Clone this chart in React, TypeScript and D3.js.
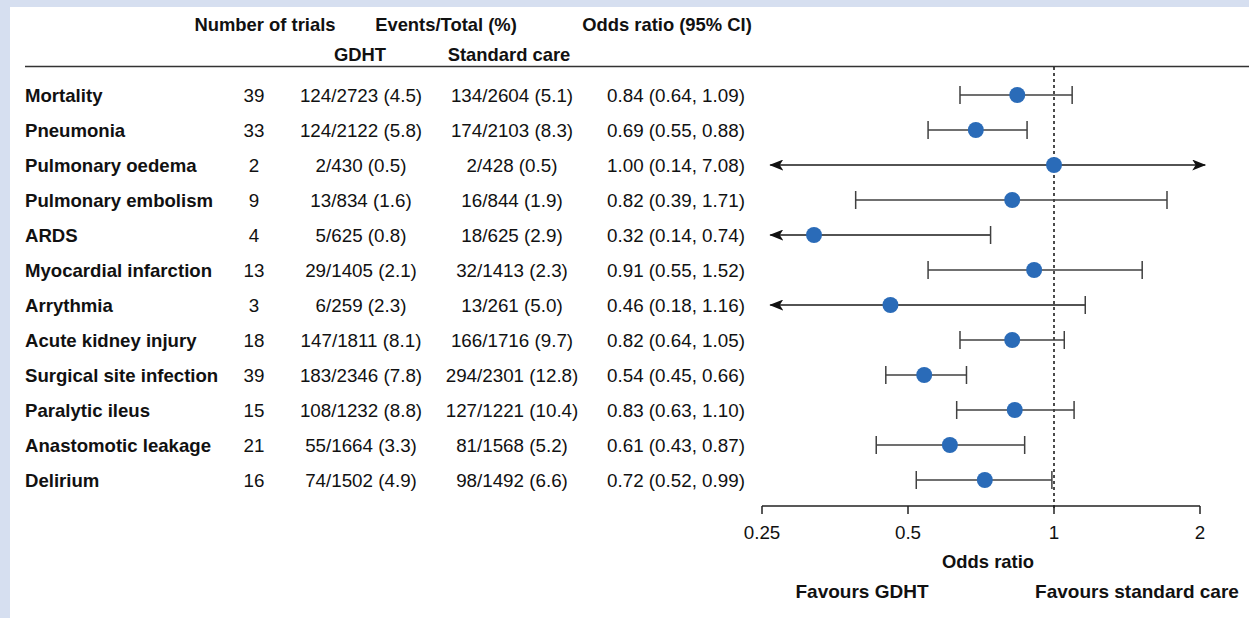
import React from "react";
import * as d3 from "d3";

const outcomes = [
  "Mortality",
  "Pneumonia",
  "Pulmonary oedema",
  "Pulmonary embolism",
  "ARDS",
  "Myocardial infarction",
  "Arrythmia",
  "Acute kidney injury",
  "Surgical site infection",
  "Paralytic ileus",
  "Anastomotic leakage",
  "Delirium",
];
const trials = [39, 33, 2, 9, 4, 13, 3, 18, 39, 15, 21, 16];
const gdhtEvents = [124, 124, 2, 13, 5, 29, 6, 147, 183, 108, 55, 74];
const gdhtTotal = [2723, 2122, 430, 834, 625, 1405, 259, 1811, 2346, 1232, 1664, 1502];
const gdhtPct = ["4.5", "5.8", "0.5", "1.6", "0.8", "2.1", "2.3", "8.1", "7.8", "8.8", "3.3", "4.9"];
const scEvents = [134, 174, 2, 16, 18, 32, 13, 166, 294, 127, 81, 98];
const scTotal = [2604, 2103, 428, 844, 625, 1413, 261, 1716, 2301, 1221, 1568, 1492];
const scPct = ["5.1", "8.3", "0.5", "1.9", "2.9", "2.3", "5.0", "9.7", "12.8", "10.4", "5.2", "6.6"];
const oddsRatio = [0.84, 0.69, 1.0, 0.82, 0.32, 0.91, 0.46, 0.82, 0.54, 0.83, 0.61, 0.72];
const ciLower = [0.64, 0.55, 0.14, 0.39, 0.14, 0.55, 0.18, 0.64, 0.45, 0.63, 0.43, 0.52];
const ciUpper = [1.09, 0.88, 7.08, 1.71, 0.74, 1.52, 1.16, 1.05, 0.66, 1.1, 0.87, 0.99];
const axisTicks = [0.25, 0.5, 1, 2];
const clipLow = 0.26;
const clipHigh = 2.05;

const W = 1249;
const H = 618;
const FONT = "'Liberation Sans', Arial, Helvetica, sans-serif";
const BG = "#d6dff0";
const DOT = "#2a6bb8";
const BAR = "#404040";

export default function App() {
  const x = d3.scaleLog().base(2).domain([0.25, 2]).range([762, 1200]);
  const y = d3
    .scalePoint<number>()
    .domain(d3.range(outcomes.length))
    .range([95, 480]);
  const fmt = d3.format(".2f");
  const tickFmt = (v: number) => String(v);

  const bodySize = 18.8;
  const labelSize = 18.6;
  const headSize = 18.4;
  const cap = 9;

  return (
    <svg
      width={W}
      height={H}
      style={{ position: "absolute", left: 0, top: 0, fontFamily: FONT }}
    >
      <defs>
        <marker
          id="arr"
          viewBox="0 0 14 11"
          refX="13"
          refY="5.5"
          markerWidth="14"
          markerHeight="11"
          markerUnits="userSpaceOnUse"
          orient="auto-start-reverse"
        >
          <path d="M0,0 L14,5.5 L0,11 L3.5,5.5 Z" fill="#111" />
        </marker>
      </defs>
      <rect x={0} y={0} width={W} height={H} fill={BG} />
      <rect x={10} y={7} width={W - 10} height={H - 7} fill="#fff" />

      {/* headers */}
      <g fontWeight="bold" fontSize={headSize} fill="#111" textAnchor="middle">
        <text x={265} y={31}>Number of trials</text>
        <text x={446} y={31}>Events/Total (%)</text>
        <text x={667} y={31}>Odds ratio (95% CI)</text>
        <text x={360} y={61}>GDHT</text>
        <text x={509} y={61}>Standard care</text>
      </g>
      <line x1={25} x2={W} y1={66.5} y2={66.5} stroke="#333" strokeWidth={1.5} />

      {/* reference line */}
      <line
        x1={x(1)}
        x2={x(1)}
        y1={67}
        y2={510}
        stroke="#111"
        strokeWidth={1.5}
        strokeDasharray="3,3"
      />

      {outcomes.map((name, i) => {
        const cy = y(i) as number;
        const lo = ciLower[i];
        const hi = ciUpper[i];
        const loClip = lo < clipLow;
        const hiClip = hi > clipHigh;
        const x1 = x(loClip ? clipLow : lo);
        const x2 = x(hiClip ? clipHigh : hi);
        const arrow = loClip || hiClip;
        return (
          <g key={name}>
            <text x={25} y={cy + 7} fontWeight="bold" fontSize={labelSize} fill="#111">
              {name}
            </text>
            <g fontSize={bodySize} fill="#111" textAnchor="middle">
              <text x={254} y={cy + 7}>{trials[i]}</text>
              <text x={361} y={cy + 7}>
                {`${gdhtEvents[i]}/${gdhtTotal[i]} (${gdhtPct[i]})`}
              </text>
              <text x={512} y={cy + 7}>
                {`${scEvents[i]}/${scTotal[i]} (${scPct[i]})`}
              </text>
              <text x={676} y={cy + 7}>
                {`${fmt(oddsRatio[i])} (${fmt(lo)}, ${fmt(hi)})`}
              </text>
            </g>
            <line
              x1={x1}
              x2={x2}
              y1={cy}
              y2={cy}
              stroke={arrow ? "#1a1a1a" : BAR}
              strokeWidth={1.5}
              markerStart={loClip ? "url(#arr)" : undefined}
              markerEnd={hiClip ? "url(#arr)" : undefined}
            />
            {!loClip && (
              <line x1={x1} x2={x1} y1={cy - cap} y2={cy + cap} stroke={BAR} strokeWidth={1.5} />
            )}
            {!hiClip && (
              <line x1={x2} x2={x2} y1={cy - cap} y2={cy + cap} stroke={BAR} strokeWidth={1.5} />
            )}
            <circle cx={x(oddsRatio[i])} cy={cy} r={8} fill={DOT} />
          </g>
        );
      })}

      {/* axis */}
      <line x1={x(0.25)} x2={x(2)} y1={506} y2={506} stroke="#222" strokeWidth={1.5} />
      {axisTicks.map((t) => (
        <g key={t}>
          <line x1={x(t)} x2={x(t)} y1={506} y2={514} stroke="#222" strokeWidth={1.5} />
          <text x={x(t)} y={539} fontSize={bodySize} textAnchor="middle" fill="#111">
            {tickFmt(t)}
          </text>
        </g>
      ))}
      <text x={988} y={568} fontSize={headSize} fontWeight="bold" textAnchor="middle" fill="#111">
        Odds ratio
      </text>
      <text x={862} y={598} fontSize={headSize + 0.6} fontWeight="bold" textAnchor="middle" fill="#111">
        Favours GDHT
      </text>
      <text x={1137} y={598} fontSize={headSize + 0.6} fontWeight="bold" textAnchor="middle" fill="#111">
        Favours standard care
      </text>
    </svg>
  );
}
